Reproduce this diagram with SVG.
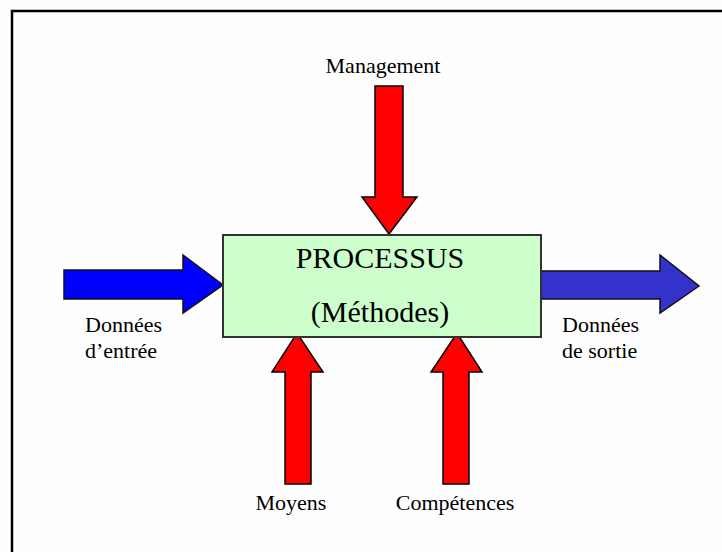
<svg xmlns="http://www.w3.org/2000/svg" width="722" height="552" viewBox="0 0 722 552">
<style>
.t{font-family:"Liberation Serif","Times New Roman",serif;fill:#000}
.lbl{font-size:22px}
.big{font-size:30px}
.red{fill:#ff0000;stroke:#000;stroke-width:1.5;stroke-linejoin:miter}
</style>
<rect x="0" y="0" width="722" height="552" fill="#fefefe"/>
<path d="M12 552 V11 H722" fill="none" stroke="#000" stroke-width="2.5"/>
<g id="connectors">
<polygon id="in-arrow" points="64,270 183,270 183,255 223,285 183,313 183,299 64,299" fill="#0000ff" stroke="#111" stroke-width="1.5"/>
<polygon id="out-arrow" points="541,271 660,271 660,255 699,286 660,313 660,299 541,299" fill="#3333cc" stroke="#111" stroke-width="1.5"/>
<polygon id="mgmt-arrow" class="red" points="375,86 403,86 403,197 417,197 389,234 362,197 375,197"/>
<polygon id="moyens-arrow" class="red" points="285,484 311,484 311,372 323,372 297,333 272,372 285,372"/>
<polygon id="comp-arrow" class="red" points="443,484 469,484 469,372 482,372 457,333 431,372 443,372"/>
</g>
<g id="processus">
<rect x="223" y="235" width="318" height="102" fill="#ccffcc" stroke="#333" stroke-width="2"/>
<text class="t big" x="380" y="268" text-anchor="middle">PROCESSUS</text>
<text class="t big" x="380" y="322" text-anchor="middle">(Méthodes)</text>
</g>
<g id="management"><text class="t lbl" x="383" y="73" text-anchor="middle">Management</text></g>
<g id="entree">
<text class="t lbl" x="85" y="332">Données</text>
<text class="t lbl" x="85" y="358">d’entrée</text>
</g>
<g id="sortie">
<text class="t lbl" x="562" y="332">Données</text>
<text class="t lbl" x="562" y="358">de sortie</text>
</g>
<g id="moyens"><text class="t lbl" x="291" y="510" text-anchor="middle">Moyens</text></g>
<g id="competences"><text class="t lbl" x="455" y="510" text-anchor="middle">Compétences</text></g>
</svg>
